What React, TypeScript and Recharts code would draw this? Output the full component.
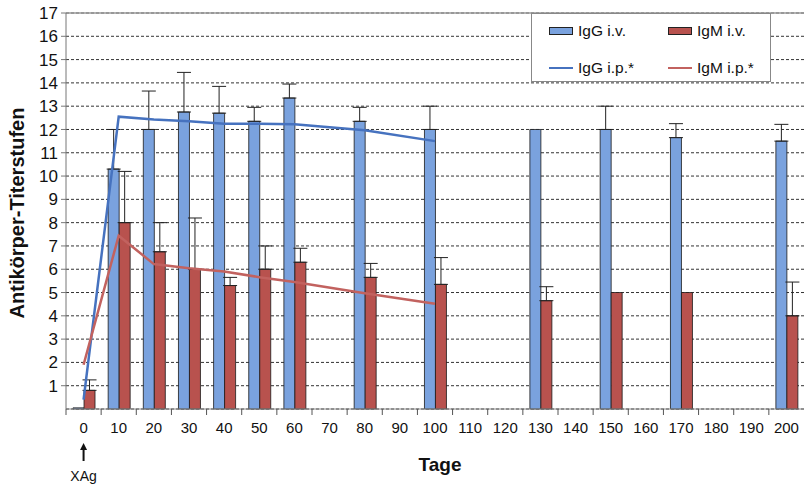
import React from 'react';
import { ComposedChart, Bar, Line, XAxis, YAxis, CartesianGrid, ErrorBar, ReferenceLine, Label } from 'recharts';

const categories = ['0', '10', '20', '30', '40', '50', '60', '70', '80', '90', '100', '110', '120', '130', '140', '150', '160', '170', '180', '190', '200'];
const igGiv: (number | null)[] = [0.05, 10.3, 12.0, 12.75, 12.7, 12.35, 13.35, null, 12.35, null, 12.0, null, null, 12.0, null, 12.0, null, 11.65, null, null, 11.5];
const igGivErr: (number | null)[] = [null, 1.7, 1.65, 1.7, 1.15, 0.6, 0.6, null, 0.6, null, 1.0, null, null, null, null, 1.0, null, 0.6, null, null, 0.72];
const igMiv: (number | null)[] = [0.8, 8.0, 6.75, 6.0, 5.3, 6.0, 6.3, null, 5.65, null, 5.35, null, null, 4.65, null, 5.0, null, 5.0, null, null, 4.0];
const igMivErr: (number | null)[] = [0.45, 2.2, 1.25, 2.2, 0.35, 1.0, 0.6, null, 0.6, null, 1.15, null, null, 0.6, null, null, null, null, null, null, 1.45];
const igGip: (number | null)[] = [0.4, 12.55, 12.43, 12.35, 12.25, 12.25, 12.22, null, 11.97, null, 11.5, null, null, null, null, null, null, null, null, null, null];
const igMip: (number | null)[] = [1.9, 7.44, 6.22, 6.04, 5.9, 5.66, 5.45, null, 4.97, null, 4.52, null, null, null, null, null, null, null, null, null, null];
const yTicks = [1, 2, 3, 4, 5, 6, 7, 8, 9, 10, 11, 12, 13, 14, 15, 16, 17];

const names = { gIv: 'IgG i.v.', mIv: 'IgM i.v.', gIp: 'IgG i.p.*', mIp: 'IgM i.p.*' };
const yTitle = 'Antikörper-Titerstufen';
const xTitle = 'Tage';
const startNote = 'XAg';

const data = categories.map((c, i) => ({
  day: c,
  gIv: igGiv[i],
  gIvErr: igGivErr[i] == null ? null : [0, igGivErr[i]],
  mIv: igMiv[i],
  mIvErr: igMivErr[i] == null ? null : [0, igMivErr[i]],
  gIp: igGip[i],
  mIp: igMip[i],
}));

const W = 808;
const H = 485;
const M = { top: 13, right: 4, left: 0, bottom: 0 };
const YW = 66;
const XH = 76;
const PLOT_L = M.left + YW;
const PLOT_R = W - M.right;
const AXIS_Y = H - M.bottom - XH;
const BAND = (PLOT_R - PLOT_L) / categories.length;

const FONT = '"Liberation Sans", Arial, sans-serif';
const BLUE = '#7aa2de';
const RED = '#b8524e';
const BLUE_LINE = '#4672bf';
const RED_LINE = '#c2625f';

const XTick = (props: any) => {
  const { x, payload, index } = props;
  const tx = x - BAND / 2;
  return (
    <g>
      <line x1={tx} y1={AXIS_Y} x2={tx} y2={AXIS_Y + 6} stroke="#555" strokeWidth={1} />
      <text x={x} y={AXIS_Y + 24} textAnchor="middle" fontSize={15} fontFamily={FONT} fill="#111">
        {payload.value}
      </text>
      {index === 0 && (
        <g>
          <line x1={x} y1={AXIS_Y + 39} x2={x} y2={AXIS_Y + 52} stroke="#111" strokeWidth={2} />
          <path d={`M${x - 3.5},${AXIS_Y + 41} L${x},${AXIS_Y + 34} L${x + 3.5},${AXIS_Y + 41} Z`} fill="#111" />
          <text x={x} y={AXIS_Y + 72} textAnchor="middle" fontSize={14} fontFamily={FONT} fill="#111">
            {startNote}
          </text>
        </g>
      )}
    </g>
  );
};

const YTitle = () => (
  <text
    x={17}
    y={213}
    transform="rotate(-90, 17, 213)"
    textAnchor="middle"
    dominantBaseline="central"
    fontSize={20}
    fontWeight="bold"
    fontFamily={FONT}
    fill="#111"
  >
    {yTitle}
  </text>
);

const XTitle = () => (
  <text x={440} y={471} textAnchor="middle" fontSize={19} fontWeight="bold" fontFamily={FONT} fill="#111">
    {xTitle}
  </text>
);

const legendItems = [
  { key: 'gIv', kind: 'bar', color: BLUE, left: 17, top: 17 },
  { key: 'mIv', kind: 'bar', color: RED, left: 136, top: 17 },
  { key: 'gIp', kind: 'line', color: BLUE_LINE, left: 17, top: 54 },
  { key: 'mIp', kind: 'line', color: RED_LINE, left: 136, top: 54 },
];

export default function App() {
  return (
    <div style={{ position: 'absolute', left: 0, top: 0, width: W, height: H, background: '#fff' }}>
      <ComposedChart width={W} height={H} data={data} margin={M} barCategoryGap="20%" barGap={0}>
        <CartesianGrid vertical={false} stroke="#333" strokeDasharray="3 2" strokeWidth={1} />
        <XAxis
          dataKey="day"
          height={XH}
          interval={0}
          tickLine={false}
          tick={<XTick />}
          stroke="#888"
        >
          <Label content={<XTitle />} />
        </XAxis>
        <YAxis
          width={YW}
          domain={[0, 17]}
          ticks={yTicks}
          interval={0}
          tickSize={5}
          tickMargin={3}
          stroke="#777"
          tick={{ fontSize: 17, fontFamily: FONT, fill: '#111' }}
        >
          <Label content={<YTitle />} />
        </YAxis>
        <ReferenceLine y={17} stroke="#999" strokeWidth={1.5} />
        <Bar dataKey="gIv" name={names.gIv} fill={BLUE} stroke="#1a1a1a" strokeWidth={0.8} isAnimationActive={false}>
          <ErrorBar dataKey="gIvErr" direction="y" width={7} stroke="#222" strokeWidth={1} />
        </Bar>
        <Bar dataKey="mIv" name={names.mIv} fill={RED} stroke="#1a1a1a" strokeWidth={0.8} isAnimationActive={false}>
          <ErrorBar dataKey="mIvErr" direction="y" width={7} stroke="#222" strokeWidth={1} />
        </Bar>
        <Line dataKey="gIp" name={names.gIp} stroke={BLUE_LINE} strokeWidth={2.5} dot={false} connectNulls isAnimationActive={false} />
        <Line dataKey="mIp" name={names.mIp} stroke={RED_LINE} strokeWidth={2.5} dot={false} connectNulls isAnimationActive={false} />
      </ComposedChart>
      <div
        style={{
          position: 'absolute',
          left: 531,
          top: 13,
          width: 240,
          height: 69,
          boxSizing: 'border-box',
          border: '1px solid #888',
          background: '#fff',
          fontFamily: FONT,
          fontSize: 15.5,
          color: '#111',
        }}
      >
        {legendItems.map((it) => (
          <div key={it.key} style={{ position: 'absolute', left: it.left, top: it.top - 9, height: 18, display: 'flex', alignItems: 'center', whiteSpace: 'nowrap' }}>
            {it.kind === 'bar' ? (
              <span style={{ display: 'inline-block', width: 24, height: 8, background: it.color, border: '1px solid #222', boxSizing: 'border-box' }} />
            ) : (
              <span style={{ display: 'inline-block', width: 24, height: 2.5, background: it.color }} />
            )}
            <span style={{ marginLeft: 5 }}>{names[it.key as keyof typeof names]}</span>
          </div>
        ))}
      </div>
    </div>
  );
}
